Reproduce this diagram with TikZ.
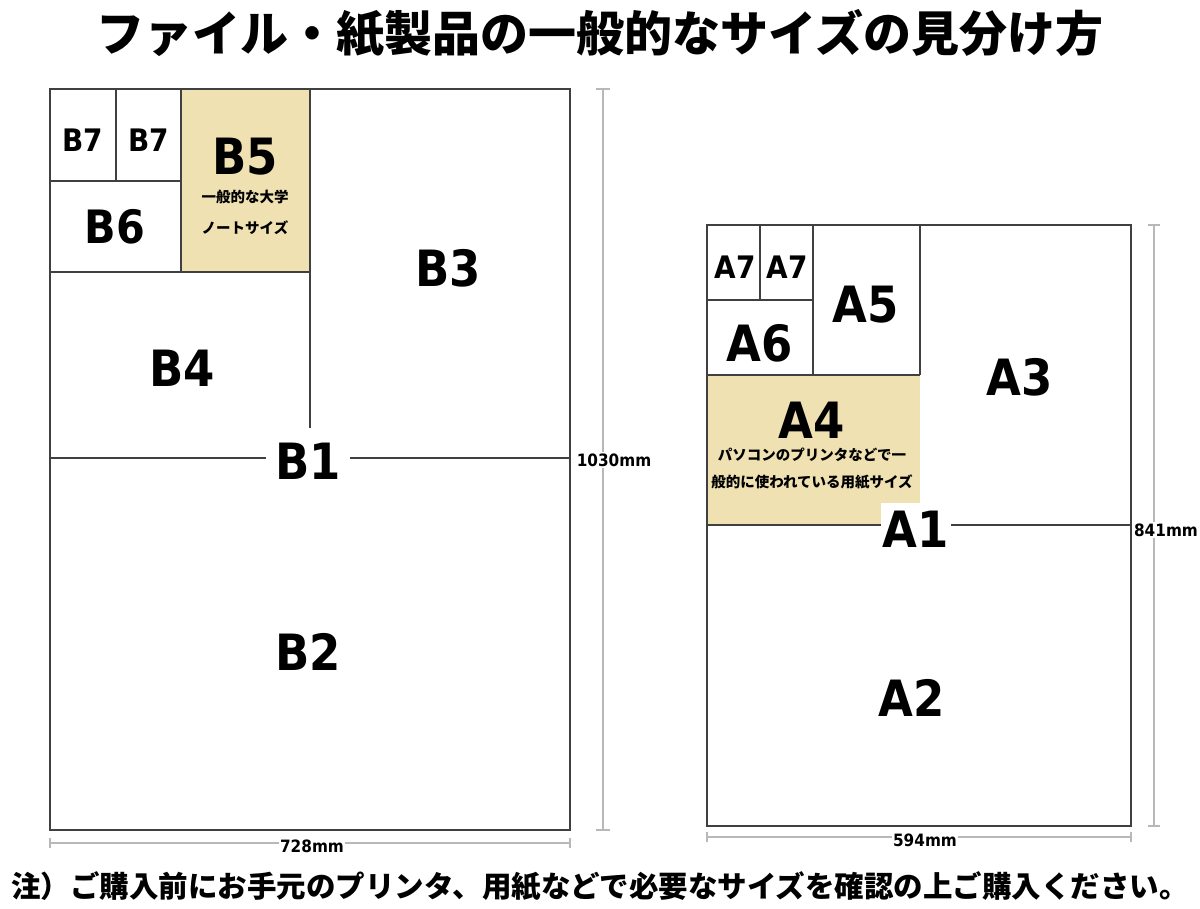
\documentclass[tikz,border=0pt]{standalone}
\usepackage{fontspec}
\setmainfont{Liberation Sans}
\newfontfamily\lab{DejaVu Sans}[FakeStretch=0.9]
\newfontfamily\cjk{Noto Sans CJK JP}
\IfFontExistsTF{Noto Sans CJK JP Black}{\newfontfamily\cjkt{Noto Sans CJK JP Black}}{\newfontfamily\cjkt{Noto Sans CJK JP}[FakeBold=2]}
\definecolor{paper}{RGB}{239,225,178}
\begin{document}
\begin{tikzpicture}[x=1pt,y=-1pt,
  edge/.style={draw=black!75,line width=1.4pt},
  dim/.style={draw=black!28,line width=1.3pt},
  big/.style={font=\lab\bfseries\fontsize{50}{50}\selectfont,inner sep=0pt},
  mid/.style={font=\lab\bfseries\fontsize{46}{46}\selectfont,inner sep=0pt},
  small/.style={font=\lab\bfseries\fontsize{31}{31}\selectfont,inner sep=0pt},
  note/.style={font=\cjk\bfseries\fontsize{14.5}{14.5}\selectfont,inner sep=0pt},
  dimlabel/.style={font=\lab\bfseries\fontsize{17}{17}\selectfont,fill=white,inner sep=1.5pt}]
\useasboundingbox (0,0) rectangle (1200,909);
% title
\node[font=\cjkt\fontsize{48}{48}\selectfont,inner sep=0pt] (title) at (600,34) {ファイル・紙製品の一般的なサイズの見分け方};
% ---------------- B sheet
\fill[paper] (181,89) rectangle (310,272);
\draw[edge] (50,89) rectangle (570,830);
\draw[edge] (50,458) -- (570,458);
\draw[edge] (310,89) -- (310,458);
\draw[edge] (50,272) -- (310,272);
\draw[edge] (181,89) -- (181,272);
\draw[edge] (50,181) -- (181,181);
\draw[edge] (116,89) -- (116,181);
\node[small] (b7a) at (83,140) {B7};
\node[small] (b7b) at (149,140) {B7};
\node[big] (b5) at (245,157) {B5};
\node[note] (b5t1) at (245,197) {一般的な大学};
\node[note] (b5t2) at (245,228) {ノートサイズ};
\node[mid] (b6) at (115,227) {B6};
\node[big] (b3) at (448,268) {B3};
\node[big] (b4) at (182,368) {B4};
\node[big,fill=white,minimum width=84pt,minimum height=66pt] (b1) at (308,461) {B1};
\node[big] (b2) at (308,652) {B2};
% B dimensions
\coordinate (bw1) at (50,843); \coordinate (bw2) at (570,843);
\draw[dim] (bw1) -- (bw2);
\draw[dim] (50,838) -- (50,848);
\draw[dim] (570,838) -- (570,848);
\node[dimlabel] (bwl) at (312,846) {728mm};
\coordinate (bh1) at (603,89); \coordinate (bh2) at (603,830);
\draw[dim] (bh1) -- (bh2);
\draw[dim] (596,89) -- (610,89);
\draw[dim] (596,830) -- (610,830);
\node[dimlabel] (bhl) at (614,460) {1030mm};
% ---------------- A sheet
\fill[paper] (707,375) rectangle (920,525);
\draw[edge] (707,225) rectangle (1131,826);
\draw[edge] (707,525) -- (1131,525);
\draw[edge] (920,225) -- (920,375);
\draw[edge] (707,375) -- (920,375);
\draw[edge] (813,225) -- (813,375);
\draw[edge] (707,300) -- (813,300);
\draw[edge] (760,225) -- (760,300);
\node[small] (a7a) at (735,267) {A7};
\node[small] (a7b) at (787,267) {A7};
\node[big] (a5) at (866,305) {A5};
\node[big] (a6) at (760,343) {A6};
\node[big] (a4) at (812,420) {A4};
\node[note] (a4t1) at (812,455) {パソコンのプリンタなどで一};
\node[note] (a4t2) at (812,482) {般的に使われている用紙サイズ};
\node[big] (a3) at (1020,377) {A3};
\node[big,fill=white,minimum width=70pt,minimum height=52pt] (a1) at (916,529) {A1};
\node[big] (a2) at (912,698) {A2};
% A dimensions
\coordinate (aw1) at (707,837); \coordinate (aw2) at (1131,837);
\draw[dim] (aw1) -- (aw2);
\draw[dim] (707,832) -- (707,842);
\draw[dim] (1131,832) -- (1131,842);
\node[dimlabel] (awl) at (925,840) {594mm};
\coordinate (ah1) at (1154,225); \coordinate (ah2) at (1154,826);
\draw[dim] (ah1) -- (ah2);
\draw[dim] (1148,225) -- (1160,225);
\draw[dim] (1148,826) -- (1160,826);
\node[dimlabel] (ahl) at (1166,530) {841mm};
% footer
\node[font=\cjk\bfseries\fontsize{29.5}{29.5}\selectfont,inner sep=0pt] (foot) at (600,886) {注）ご購入前にお手元のプリンタ、用紙などで必要なサイズを確認の上ご購入ください。};
\end{tikzpicture}
\end{document}
